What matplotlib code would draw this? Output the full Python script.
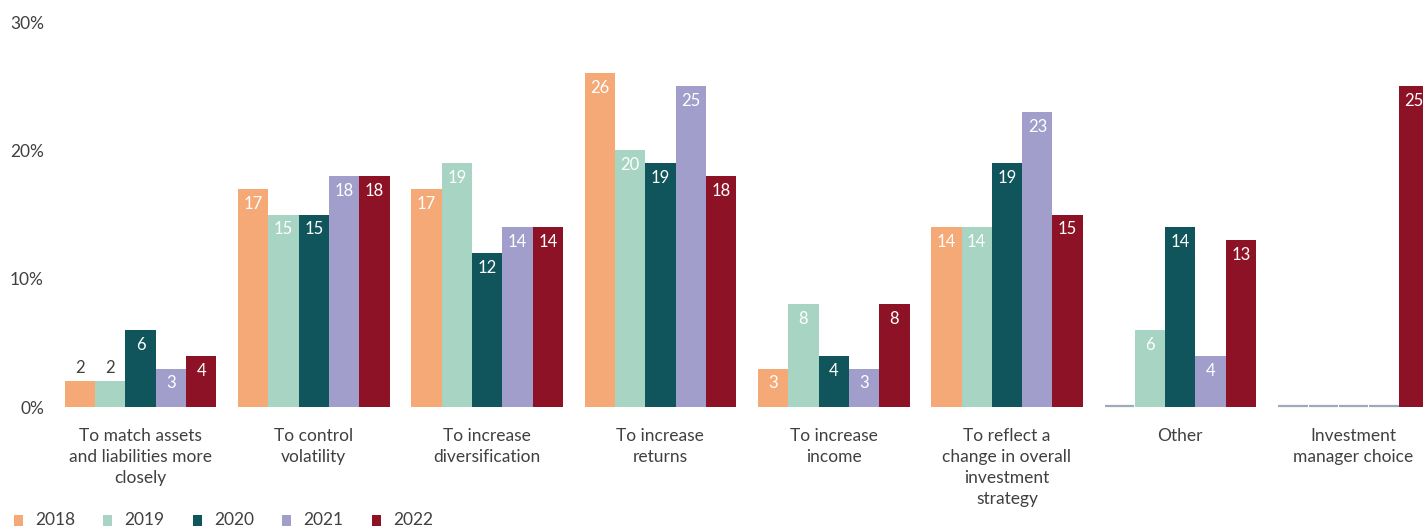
import matplotlib
matplotlib.use("Agg")
import matplotlib.pyplot as plt
import numpy as np

categories = [
    "To match assets\nand liabilities more\nclosely",
    "To control\nvolatility",
    "To increase\ndiversification",
    "To increase\nreturns",
    "To increase\nincome",
    "To reflect a\nchange in overall\ninvestment\nstrategy",
    "Other",
    "Investment\nmanager choice",
]
years = ["2018", "2019", "2020", "2021", "2022"]
v2018 = [2, 17, 17, 26, 3, 14, 0, 0]
v2019 = [2, 15, 19, 20, 8, 14, 6, 0]
v2020 = [6, 15, 12, 19, 4, 19, 14, 0]
v2021 = [3, 18, 14, 25, 3, 23, 4, 0]
v2022 = [4, 18, 14, 18, 8, 15, 13, 25]
series = [v2018, v2019, v2020, v2021, v2022]
colors = ["#F5A976", "#A7D4C3", "#0F555B", "#A19ECC", "#8E1226"]
yticks = [0, 10, 20, 30]

plt.rcParams["font.family"] = ["Lato", "DejaVu Sans"]
text_col = "#404040"

W, H = 1423, 528
fig = plt.figure(figsize=(W / 100, H / 100), dpi=100)

# axes geometry in pixels
px_left, px_right = 55, 1423
px_top, px_bottom = 22, 407
ax = fig.add_axes([px_left / W, (H - px_bottom) / H,
                   (px_right - px_left) / W, (px_bottom - px_top) / H])

group_px = 173.3
first_center = 140.5
x0 = (px_left - first_center) / group_px
x1 = (px_right - first_center) / group_px
ax.set_xlim(x0, x1)
ax.set_ylim(0, 30)

bw = 0.175
x = np.arange(len(categories))
px_per_unit = (px_bottom - px_top) / 30.0

for k, (vals, col) in enumerate(zip(series, colors)):
    pos = x + (k - 2) * bw
    for xi, v in zip(pos, vals):
        if v == 0:
            # zero values shown as a thin baseline stub
            ax.plot([xi - bw / 2 + 0.003, xi + bw / 2 - 0.003], [0.05, 0.05],
                    color="#9FA9B8", lw=1.6, solid_capstyle="butt",
                    clip_on=False)
            continue
        ax.bar(xi, v, width=bw, color=col, linewidth=0)
        if v <= 2:
            ax.text(xi, v + 13 / px_per_unit, f"{v}", ha="center",
                    va="center", fontsize=12, color=text_col)
        else:
            ax.text(xi, v - 15 / px_per_unit, f"{v}", ha="center",
                    va="center", fontsize=12, color="white")

for xi, lab in zip(x, categories):
    ax.text(xi, -21 / px_per_unit, lab, ha="center", va="top",
            fontsize=12.5, color=text_col, linespacing=1.38)

ax.set_yticks(yticks)
ax.set_yticklabels([f"{t}%" for t in yticks], fontsize=12.5, color=text_col)
ax.tick_params(axis="y", length=0, pad=8)
ax.set_xticks([])
for s in ax.spines.values():
    s.set_visible(False)

# legend
leg_x = [14, 103, 193, 282, 372]
for lx, yr, col in zip(leg_x, years, colors):
    fig.patches.append(plt.Rectangle((lx / W, (H - 526) / H), 9 / W, 11 / H,
                                     transform=fig.transFigure,
                                     facecolor=col, edgecolor="none"))
    fig.text((lx + 21) / W, (H - 520) / H, yr, ha="left", va="center",
             fontsize=12.5, color=text_col)

fig.savefig("out.png", dpi=100)
